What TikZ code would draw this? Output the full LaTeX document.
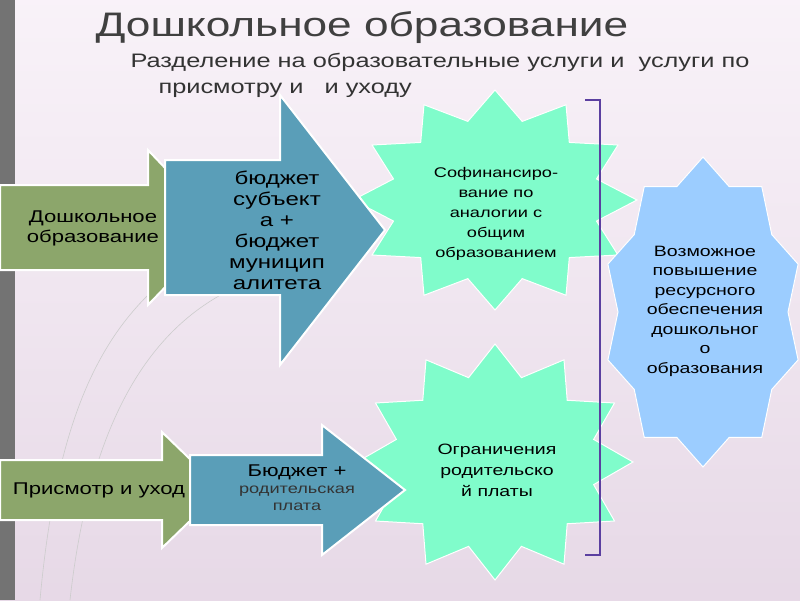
\documentclass[tikz,border=0pt]{standalone}
\usepackage{fontspec}
\setmainfont[FakeStretch=1.3]{Liberation Sans}
\begin{document}
\begin{tikzpicture}[x=1pt,y=-1pt,
  garrow/.style={fill=arrgreen,draw=white,line width=2pt,line join=miter},
  barrow/.style={fill=arrblue,draw=white,line width=2pt,line join=miter},
  txt/.style={align=center,font=\fontsize{15}{17}\selectfont,text=black},
  burst/.style={draw=white,line width=1pt}]
\definecolor{arrgreen}{HTML}{8CA66B}
\definecolor{arrblue}{HTML}{5A9EB8}
\definecolor{aqua}{HTML}{80FCCB}
\definecolor{lblue}{HTML}{9CCDFF}
\definecolor{brk}{HTML}{5B3FA0}
\shade[top color=white!95!violet,bottom color=black!28!violet!15!white] (0,0) rectangle (800,600);
\useasboundingbox (0,0) rectangle (800,600);
\fill[black!55] (0,0) rectangle (15,600);
\draw[white!80!black,line width=0.6pt] (40,600) .. controls (60,380) and (120,300) .. (215,245);
\draw[white!80!black,line width=0.6pt] (70,600) .. controls (90,420) and (150,330) .. (230,290);
% title
\node[anchor=west,text=black!75,font=\fontsize{34}{36}\selectfont] (title) at (92,28) {Дошкольное образование};
\node[anchor=west,text=black!80,font=\fontsize{19.5}{22}\selectfont] (sub1) at (127,62) {Разделение на образовательные услуги и\ \ услуги по};
\node[anchor=west,text=black!80,font=\fontsize{19.5}{22}\selectfont] (sub2) at (155,90) {присмотру и\ \ \ и уходу};
% bursts
\newcommand\mkburst[7]{%
 \draw[burst,fill=#7] ({#1},{#2-#4}) \foreach \i [evaluate=\i as \f using {mod(\i,2)==0?1:#6}] in {1,...,#5}
   { -- ({#1+\f*#3*sin(\i*360/#5)},{#2-\f*#4*cos(\i*360/#5)}) } -- cycle;}
\mkburst{495}{200}{142}{110}{24}{0.74}{aqua}
\mkburst{495}{462}{138}{118}{24}{0.74}{aqua}
\mkburst{703}{312}{100}{155}{20}{0.85}{lblue}
% arrows
\draw[garrow] (0,185) -- (148,185) -- (148,150) -- (222,228) -- (148,305) -- (148,270) -- (0,270) -- cycle;
\draw[barrow] (165,160) -- (280,160) -- (280,95) -- (385,230) -- (280,365) -- (280,295) -- (165,295) -- cycle;
\draw[garrow] (0,460) -- (162,460) -- (162,432) -- (222,490) -- (162,548) -- (162,520) -- (0,520) -- cycle;
\draw[barrow] (190,455) -- (322,455) -- (322,425) -- (405,490) -- (322,555) -- (322,525) -- (190,525) -- cycle;
% texts
\node[txt,font=\fontsize{17}{20}\selectfont] (a1) at (93,228) {Дошкольное\\образование};
\node[txt,font=\fontsize{18.5}{21}\selectfont] (a2) at (277,230) {бюджет\\субъект\\а +\\бюджет\\муницип\\алитета};
\node[txt,font=\fontsize{17}{20}\selectfont] (a3) at (99,490) {Присмотр и уход};
\node[txt,align=center] (a4) at (297,488) {{\fontsize{17}{20}\selectfont Бюджет +}\\{\fontsize{14}{17}\selectfont\color{black!80}родительская}\\{\fontsize{14}{17}\selectfont\color{black!80}плата}};
\node[txt,font=\fontsize{14}{20}\selectfont] (s1) at (496,214) {Софинансиро-\\вание по\\аналогии с\\общим\\образованием};
\node[txt,font=\fontsize{15}{21}\selectfont] (s2) at (497,470) {Ограничения\\родительско\\й платы};
\node[txt,font=\fontsize{15}{19.5}\selectfont] (s3) at (705,311) {Возможное\\повышение\\ресурсного\\обеспечения\\дошкольног\\о\\образования};
% bracket
\coordinate (bt) at (600,100);
\coordinate (bb) at (600,555);
\draw[brk,line width=1.5pt] ([xshift=-15]bt) -- (bt) -- (bb) -- ([xshift=-15]bb);
\end{tikzpicture}
\end{document}
